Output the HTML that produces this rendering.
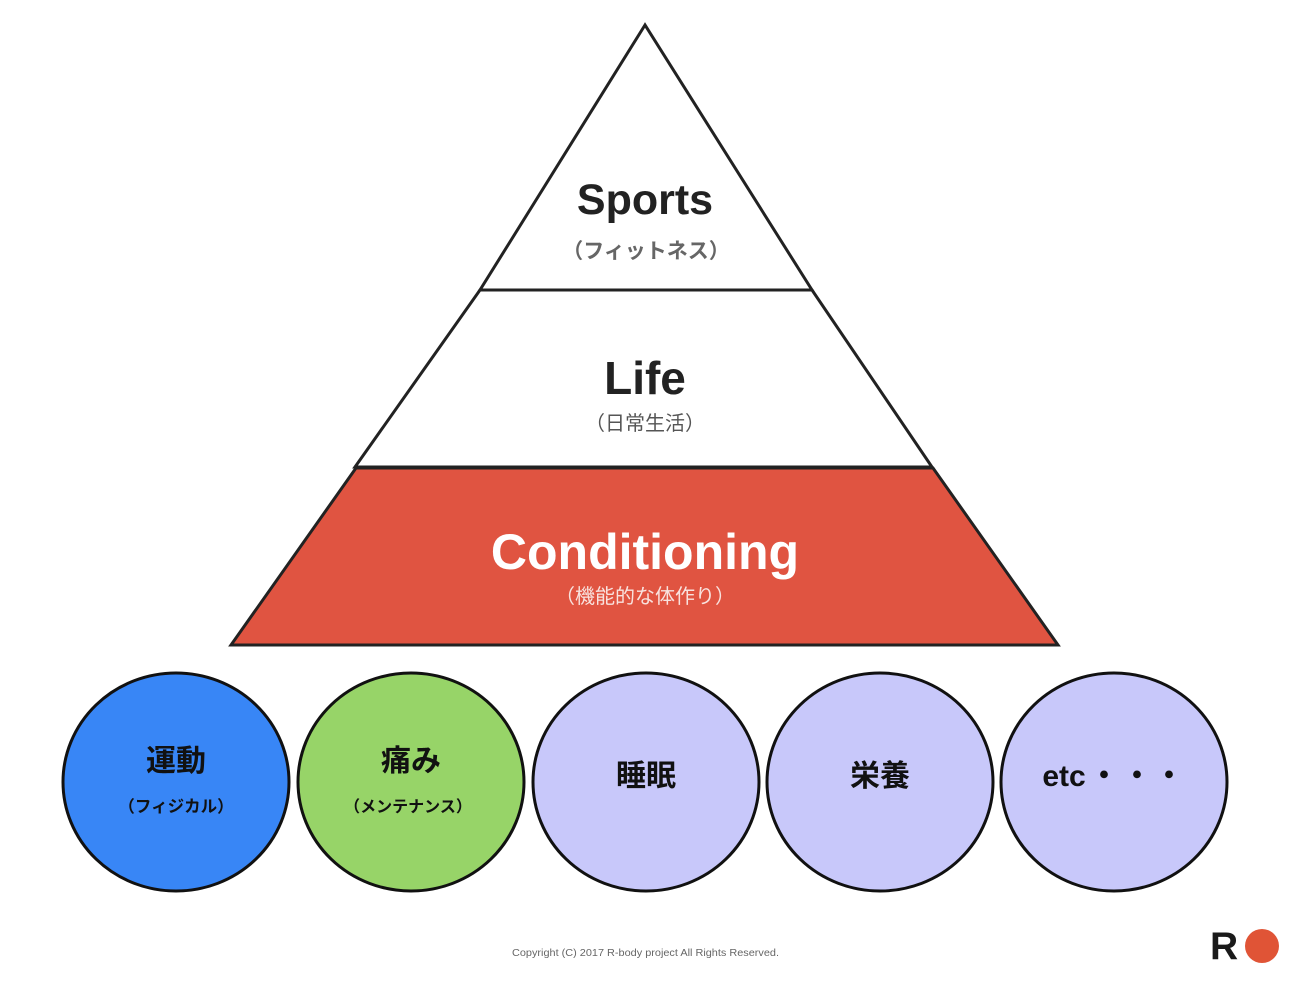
<!DOCTYPE html>
<html>
<head>
<meta charset="utf-8">
<style>
html,body{margin:0;padding:0;background:#fff;}
svg{display:block;}
</style>
</head>
<body>
<svg width="1296" height="982" viewBox="0 0 1296 982" xmlns="http://www.w3.org/2000/svg">
  <rect width="1296" height="982" fill="#ffffff"/>
  <!-- pyramid -->
  <polygon points="645,25 480,290 812,290" fill="#ffffff" stroke="#222" stroke-width="3" stroke-linejoin="miter"/>
  <polygon points="480,290 812,290 932,467 355,467" fill="#ffffff" stroke="#222" stroke-width="3"/>
  <polygon points="356,468 933,468 1058,645 231,645" fill="#e05441" stroke="#222" stroke-width="3"/>

  <g font-family="'Liberation Sans','Noto Sans CJK JP',sans-serif" text-anchor="middle">
    <text x="645" y="214" font-size="43" font-weight="bold" fill="#222">Sports</text>
    <text x="646" y="258" font-size="21" font-weight="bold" fill="#666">（フィットネス）</text>
    <text x="645" y="394" font-size="46" font-weight="bold" fill="#222">Life</text>
    <text x="645" y="430" font-size="20" fill="#555">（日常生活）</text>
    <text x="645" y="569" font-size="50" font-weight="bold" fill="#ffffff">Conditioning</text>
    <text x="645" y="603" font-size="20" fill="#f8e2de">（機能的な体作り）</text>
  </g>

  <!-- circles -->
  <g stroke="#111" stroke-width="3">
    <ellipse cx="176" cy="782" rx="113" ry="109" fill="#3886f6"/>
    <ellipse cx="411" cy="782" rx="113" ry="109" fill="#97d468"/>
    <ellipse cx="646" cy="782" rx="113" ry="109" fill="#c8c8fa"/>
    <ellipse cx="880" cy="782" rx="113" ry="109" fill="#c8c8fa"/>
    <ellipse cx="1114" cy="782" rx="113" ry="109" fill="#c8c8fa"/>
  </g>

  <g font-family="'Liberation Sans','Noto Sans CJK JP',sans-serif" text-anchor="middle" fill="#111" font-weight="bold">
    <text x="176" y="771" font-size="30">運動</text>
    <text x="176" y="812" font-size="16.5">（フィジカル）</text>
    <text x="411" y="771" font-size="30">痛み</text>
    <text x="408" y="812" font-size="16">（メンテナンス）</text>
    <text x="646" y="786" font-size="30">睡眠</text>
    <text x="880" y="786" font-size="30">栄養</text>
    <text x="1064" y="786" font-size="30">etc</text>
    <text x="1104" y="786" font-size="30">・</text>
    <text x="1137" y="786" font-size="30">・</text>
    <text x="1169" y="786" font-size="30">・</text>
  </g>

  <!-- footer -->
  <text x="512" y="956" font-family="'Liberation Sans',sans-serif" font-size="10" fill="#666" textLength="267" lengthAdjust="spacingAndGlyphs">Copyright (C) 2017  R-body project All Rights Reserved.</text>

  <!-- logo -->
  <text x="1210" y="959" font-family="'Liberation Sans',sans-serif" font-size="39" font-weight="bold" fill="#1a1a1a">R</text>
  <circle cx="1262" cy="946" r="17" fill="#e05436"/>
</svg>
</body>
</html>
